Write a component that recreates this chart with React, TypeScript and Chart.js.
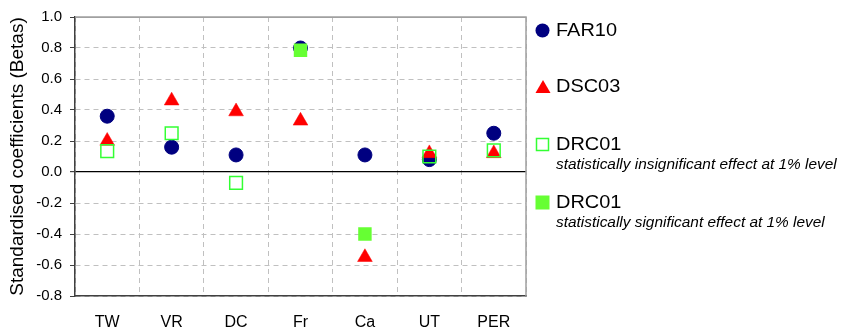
import React, { useEffect, useRef } from "react";
import { Chart, registerables } from "chart.js";

Chart.register(...registerables);

const categories = ["TW", "VR", "DC", "Fr", "Ca", "UT", "PER"];
const far10 = [0.36, 0.16, 0.11, 0.8, 0.11, 0.08, 0.25];
const dsc03 = [0.2, 0.46, 0.39, 0.33, -0.55, 0.12, 0.12];
const drc01Insig = [0.135, 0.25, -0.07, null, null, 0.1, 0.14];
const drc01Sig = [null, null, null, 0.785, -0.4, null, null];
const yMin = -0.8;
const yMax = 1.0;
const yStep = 0.2;

const FONT = '"Liberation Sans", Arial, Helvetica, sans-serif';

const framePlugin = {
  id: "frame",
  beforeDatasetsDraw(chart: any) {
    const { ctx, chartArea } = chart;
    ctx.save();
    ctx.strokeStyle = "#a0a0a0";
    ctx.lineWidth = 1.5;
    ctx.beginPath();
    ctx.moveTo(chartArea.left, chartArea.top);
    ctx.lineTo(chartArea.right, chartArea.top);
    ctx.lineTo(chartArea.right, chartArea.bottom);
    ctx.stroke();
    ctx.restore();
  },
};

export default function App() {
  const ref = useRef<HTMLCanvasElement>(null);

  useEffect(() => {
    document.body.style.margin = "0";
    const canvas = ref.current!;
    const chart = new Chart(canvas, {
      type: "line",
      data: {
        labels: categories,
        datasets: [
          {
            label: "FAR10",
            data: far10,
            showLine: false,
            pointStyle: "circle",
            pointRadius: 7,
            pointBorderWidth: 1,
            backgroundColor: "#000080",
            borderColor: "#000080",
            order: 4,
          },
          {
            label: "DSC03",
            data: dsc03,
            showLine: false,
            pointStyle: "triangle",
            pointRadius: 8.5,
            pointBorderWidth: 0.5,
            backgroundColor: "#ff0000",
            borderColor: "#ff0000",
            order: 3,
          },
          {
            label: "DRC01 insignificant",
            data: drc01Insig,
            showLine: false,
            pointStyle: "rect",
            pointRadius: 9,
            pointBorderWidth: 1.5,
            backgroundColor: "rgba(0,0,0,0)",
            borderColor: "#33ff33",
            order: 2,
          },
          {
            label: "DRC01 significant",
            data: drc01Sig,
            showLine: false,
            pointStyle: "rect",
            pointRadius: 9.5,
            pointBorderWidth: 0,
            backgroundColor: "#66ff33",
            borderColor: "#66ff33",
            order: 1,
          },
        ],
      },
      options: {
        responsive: false,
        animation: false,
        devicePixelRatio: 1,
        layout: { padding: { left: 0, right: 315, top: 15, bottom: 0 } },
        plugins: {
          legend: { display: false },
          tooltip: { enabled: false },
        },
        scales: {
          x: {
            type: "category",
            offset: true,
            grid: {
              offset: true,
              color: "#c0c0c0",
              lineWidth: 1,
              drawTicks: false,
            },
            border: { color: "#404040", width: 1.5, dash: [5, 4] },
            ticks: {
              color: "#000",
              padding: 17,
              font: { family: FONT, size: 16 },
              maxRotation: 0,
            },
            afterFit: (s: any) => {
              s.height = 33;
            },
          },
          y: {
            min: yMin,
            max: yMax,
            grid: {
              color: (c: any) =>
                c.tick && Math.abs(c.tick.value) < 1e-9
                  ? "#000000"
                  : c.tick && Math.abs(c.tick.value - yMax) < 1e-9
                  ? "#a0a0a0"
                  : "#c0c0c0",
              lineWidth: (c: any) =>
                c.tick && Math.abs(c.tick.value) < 1e-9 ? 1.2 : 1,
              tickColor: "#404040",
              tickLength: 5,
              tickBorderDash: [],
              drawTicks: true,
            },
            border: {
              color: "#404040",
              width: 1.5,
              dash: (c: any) =>
                c.tick &&
                (Math.abs(c.tick.value) < 1e-9 ||
                  Math.abs(c.tick.value - yMax) < 1e-9)
                  ? []
                  : [5, 4],
            },
            ticks: {
              stepSize: yStep,
              color: "#000",
              padding: 8,
              font: { family: FONT, size: 15 },
              callback: (v: any) => Number(v).toFixed(1),
            },
            title: {
              display: true,
              text: "Standardised coefficients (Betas)",
              color: "#000",
              font: { family: FONT, size: 19 },
              padding: { top: 6, bottom: 0 },
            },
            afterFit: (s: any) => {
              s.width = 75;
            },
          },
        },
      },
      plugins: [framePlugin],
    } as any);
    return () => chart.destroy();
  }, []);

  const textStyle: React.CSSProperties = {
    fontFamily: FONT,
    fontSize: 17.5,
    color: "#000",
    lineHeight: "24px",
    whiteSpace: "nowrap",
    display: "inline-block",
    transform: "scaleX(1.14)",
    transformOrigin: "left center",
  };
  const subStyle: React.CSSProperties = {
    position: "absolute",
    left: 556,
    fontFamily: FONT,
    fontSize: 14,
    fontStyle: "italic",
    color: "#000",
    lineHeight: "18px",
    whiteSpace: "nowrap",
    transform: "scaleX(1.1)",
    transformOrigin: "left center",
  };
  const item = (center: number, marker: React.ReactNode, label: string) => (
    <div
      style={{
        position: "absolute",
        left: 535,
        top: center - 12,
        height: 24,
        display: "flex",
        alignItems: "center",
      }}
    >
      <div style={{ width: 21, display: "flex", alignItems: "center" }}>{marker}</div>
      <span style={textStyle}>{label}</span>
    </div>
  );

  return (
    <div style={{ position: "relative", width: 841, height: 329, background: "#fff", overflow: "hidden" }}>
      <canvas ref={ref} width={841} height={329} style={{ display: "block" }} />
      {item(
        30,
        <svg width="15" height="15">
          <circle cx="7.5" cy="7.5" r="7" fill="#000080" />
        </svg>,
        "FAR10"
      )}
      {item(
        86,
        <svg width="16" height="15">
          <polygon points="8,1 15.5,14 0.5,14" fill="#ff0000" />
        </svg>,
        "DSC03"
      )}
      {item(
        144,
        <svg width="15" height="15">
          <rect x="1.5" y="1.5" width="12" height="12" fill="none" stroke="#33ff33" strokeWidth="1.5" />
        </svg>,
        "DRC01"
      )}
      <div style={{ ...subStyle, top: 155 }}>statistically insignificant effect at 1% level</div>
      {item(
        202,
        <svg width="15" height="15">
          <rect x="0.5" y="0.5" width="14" height="14" fill="#66ff33" />
        </svg>,
        "DRC01"
      )}
      <div style={{ ...subStyle, top: 213 }}>statistically significant effect at 1% level</div>
    </div>
  );
}
